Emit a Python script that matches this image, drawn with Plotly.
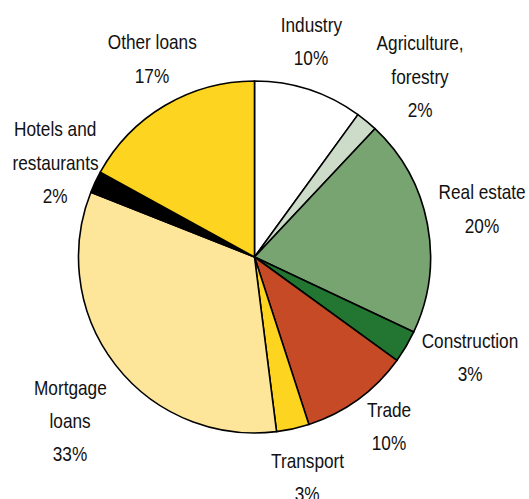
import plotly.graph_objects as go

# ---- data ----
categories = ["Industry", "Agriculture, forestry", "Real estate", "Construction", "Trade",
              "Transport", "Mortgage loans", "Hotels and restaurants", "Other loans"]
shares = [10, 2, 20, 3, 10, 3, 33, 2, 17]
label_lines = [["Industry"], ["Agriculture,", "forestry"], ["Real estate"], ["Construction"],
               ["Trade"], ["Transport"], ["Mortgage", "loans"], ["Hotels and", "restaurants"],
               ["Other loans"]]
colors = ["#FFFFFF", "#CCDCC8", "#77A471", "#237631", "#C64A25",
          "#FDD41F", "#FDE59A", "#000000", "#FDD41F"]

# ---- layout (label anchor: centre x, first-line y, in pixels) ----
W, H = 529, 499
label_anchor = [(311, 24), (420, 43), (482, 192), (470, 340), (389, 409),
                (307, 460), (70, 387), (55, 129), (152, 42)]
LINE = 33
FONT = dict(family="Liberation Sans, Arial", size=21, color="#111111")

cx, cy, r = 254.5, 257, 176

fig = go.Figure(go.Pie(
    labels=categories, values=shares, sort=False, direction="clockwise", rotation=0,
    marker=dict(colors=colors, line=dict(color="#000000", width=1.6)),
    textinfo="none", hoverinfo="label+percent", showlegend=False,
    domain=dict(x=[(cx - r) / W, (cx + r) / W], y=[1 - (cy + r) / H, 1 - (cy - r) / H]),
))

annotations = []
for lines, share, (ax, ay) in zip(label_lines, shares, label_anchor):
    all_lines = lines + [f"{share}%"]
    for i, t in enumerate(all_lines):
        annotations.append(dict(
            text=t, x=ax / W, y=1 - (ay + i * LINE) / H, xref="paper", yref="paper",
            showarrow=False, xanchor="center", yanchor="middle", font=FONT))

fig.update_layout(
    width=W, height=H, margin=dict(l=0, r=0, t=0, b=0),
    paper_bgcolor="white", plot_bgcolor="white", annotations=annotations,
)

# condense the label text horizontally (narrow typeface look of the reference)
post = """
document.querySelectorAll('.annotation-text').forEach(function(t){
  t.style.transformBox = 'fill-box';
  t.style.transformOrigin = 'center';
  t.style.transform = 'scaleX(0.82)';
});
"""
fig.write_html("out.html", post_script=post)
